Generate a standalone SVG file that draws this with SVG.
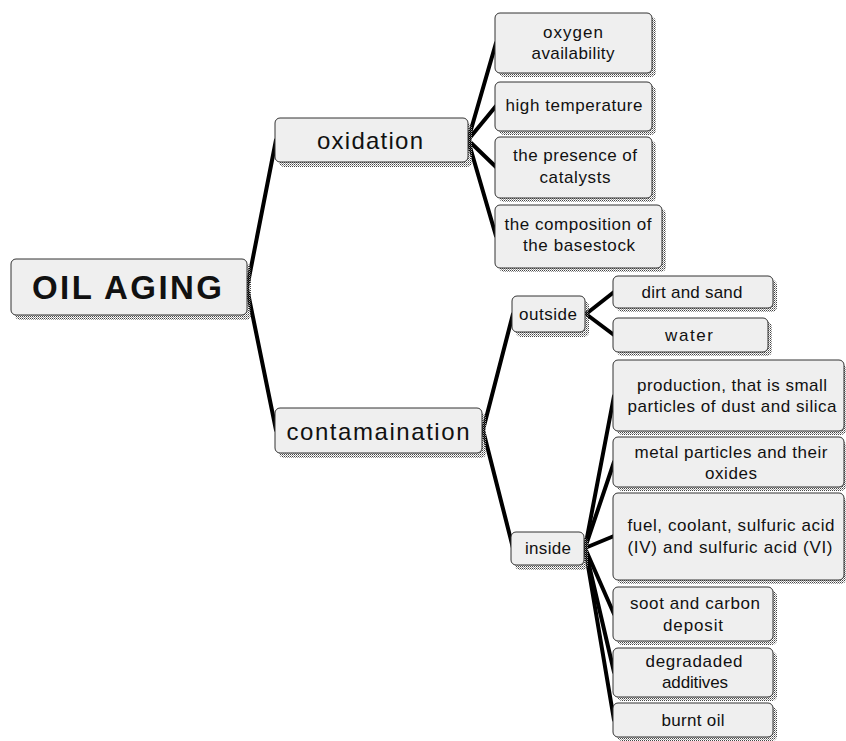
<svg xmlns="http://www.w3.org/2000/svg" width="846" height="741" viewBox="0 0 846 741">
<defs>
<pattern id="dots" width="2" height="2" patternUnits="userSpaceOnUse">
<rect x="0" y="0" width="1" height="1" fill="#444"/>
<rect x="1" y="1" width="1" height="1" fill="#999"/>
</pattern>
</defs>
<style>
.sh{fill:url(#dots)}
.bx{fill:#efefef;stroke:#333;stroke-width:1}
.t{font-family:"Liberation Sans",Arial,sans-serif;font-size:17px;fill:#111;text-anchor:middle}
.m{font-size:24px}
.b{font-size:33px;font-weight:bold}
.c line{stroke:#000;stroke-width:4;stroke-linecap:round}
</style>
<rect width="846" height="741" fill="#fff"/>
<g class="c" id="connectors">
<line x1="247" y1="288" x2="276" y2="140"/>
<line x1="247" y1="288" x2="276" y2="430"/>
<line x1="468" y1="140" x2="496" y2="43"/>
<line x1="468" y1="140" x2="496" y2="106"/>
<line x1="468" y1="140" x2="496" y2="167"/>
<line x1="468" y1="140" x2="496" y2="236"/>
<line x1="483" y1="430" x2="513" y2="314"/>
<line x1="483" y1="430" x2="513" y2="548"/>
<line x1="586" y1="314" x2="614" y2="292"/>
<line x1="586" y1="314" x2="614" y2="335"/>
<line x1="585" y1="548" x2="614" y2="396"/>
<line x1="585" y1="548" x2="614" y2="462"/>
<line x1="585" y1="548" x2="614" y2="536"/>
<line x1="585" y1="548" x2="614" y2="614"/>
<line x1="585" y1="548" x2="614" y2="672"/>
<line x1="585" y1="548" x2="614" y2="720"/>
</g>
<g id="oil-aging"><rect class="sh" x="15" y="264" width="236" height="56" rx="5"/><rect class="bx" x="11" y="259" width="236" height="56" rx="5"/><text class="t b" x="127" y="299" textLength="190" lengthAdjust="spacing">OIL  AGING</text></g>
<g id="oxidation"><rect class="sh" x="279" y="123" width="193" height="44" rx="5"/><rect class="bx" x="275" y="118" width="193" height="44" rx="5"/><text class="t m" x="370" y="149" textLength="106" lengthAdjust="spacing">oxidation</text></g>
<g id="contamaination"><rect class="sh" x="279" y="413" width="207" height="45" rx="5"/><rect class="bx" x="275" y="408" width="207" height="45" rx="5"/><text class="t m" x="378" y="440" textLength="183" lengthAdjust="spacing">contamaination</text></g>
<g id="oxygen"><rect class="sh" x="499" y="17" width="157" height="60" rx="5"/><rect class="bx" x="495" y="13" width="157" height="60" rx="5"/><text class="t" x="573" y="38" textLength="60" lengthAdjust="spacing">oxygen</text><text class="t" x="573" y="59" textLength="83" lengthAdjust="spacing">availability</text></g>
<g id="high-temp"><rect class="sh" x="499" y="86" width="157" height="49" rx="5"/><rect class="bx" x="495" y="82" width="157" height="49" rx="5"/><text class="t" x="574" y="111" textLength="137" lengthAdjust="spacing">high temperature</text></g>
<g id="catalysts"><rect class="sh" x="499" y="141" width="157" height="61" rx="5"/><rect class="bx" x="495" y="137" width="157" height="61" rx="5"/><text class="t" x="575" y="161" textLength="124" lengthAdjust="spacing">the presence of</text><text class="t" x="575" y="183" textLength="71" lengthAdjust="spacing">catalysts</text></g>
<g id="basestock"><rect class="sh" x="499" y="209" width="167" height="63" rx="5"/><rect class="bx" x="495" y="205" width="167" height="63" rx="5"/><text class="t" x="578" y="230" textLength="147" lengthAdjust="spacing">the composition of</text><text class="t" x="579" y="251" textLength="112" lengthAdjust="spacing">the basestock</text></g>
<g id="outside"><rect class="sh" x="516" y="301" width="73" height="36" rx="5"/><rect class="bx" x="512" y="296" width="73" height="36" rx="5"/><text class="t" x="548" y="320" textLength="58" lengthAdjust="spacing">outside</text></g>
<g id="dirt"><rect class="sh" x="617" y="280" width="160" height="32" rx="5"/><rect class="bx" x="613" y="276" width="160" height="32" rx="5"/><text class="t" x="692" y="298" textLength="101" lengthAdjust="spacing">dirt and  sand</text></g>
<g id="water"><rect class="sh" x="617" y="322" width="155" height="34" rx="5"/><rect class="bx" x="613" y="318" width="155" height="34" rx="5"/><text class="t" x="689" y="341" textLength="48" lengthAdjust="spacing">water</text></g>
<g id="production"><rect class="sh" x="617" y="364" width="229" height="71" rx="5"/><rect class="bx" x="613" y="360" width="231" height="71" rx="5"/><text class="t" x="732" y="391" textLength="190" lengthAdjust="spacing">production, that  is small</text><text class="t" x="732" y="412" textLength="209" lengthAdjust="spacing">particles of  dust and  silica</text></g>
<g id="metal"><rect class="sh" x="617" y="441" width="229" height="50" rx="5"/><rect class="bx" x="613" y="437" width="231" height="50" rx="5"/><text class="t" x="731" y="458" textLength="193" lengthAdjust="spacing">metal particles and their</text><text class="t" x="731" y="479" textLength="52" lengthAdjust="spacing">oxides</text></g>
<g id="fuel"><rect class="sh" x="617" y="497" width="229" height="87" rx="5"/><rect class="bx" x="613" y="493" width="231" height="87" rx="5"/><text class="t" x="731" y="531" textLength="207" lengthAdjust="spacing">fuel, coolant, sulfuric acid</text><text class="t" x="730" y="553" textLength="205" lengthAdjust="spacing">(IV) and sulfuric acid (VI)</text></g>
<g id="inside"><rect class="sh" x="515" y="537" width="73" height="33" rx="5"/><rect class="bx" x="511" y="532" width="73" height="33" rx="5"/><text class="t" x="548" y="554" textLength="46" lengthAdjust="spacing">inside</text></g>
<g id="soot"><rect class="sh" x="617" y="591" width="160" height="54" rx="5"/><rect class="bx" x="613" y="587" width="160" height="54" rx="5"/><text class="t" x="695" y="609" textLength="130" lengthAdjust="spacing">soot and carbon</text><text class="t" x="693" y="631" textLength="60" lengthAdjust="spacing">deposit</text></g>
<g id="degradaded"><rect class="sh" x="617" y="652" width="160" height="49" rx="5"/><rect class="bx" x="613" y="648" width="160" height="49" rx="5"/><text class="t" x="694" y="667" textLength="97" lengthAdjust="spacing">degradaded</text><text class="t" x="695" y="688" textLength="66" lengthAdjust="spacing">additives</text></g>
<g id="burnt"><rect class="sh" x="617" y="707" width="160" height="34" rx="5"/><rect class="bx" x="613" y="703" width="160" height="34" rx="5"/><text class="t" x="693" y="726" textLength="63" lengthAdjust="spacing">burnt oil</text></g>
</svg>
